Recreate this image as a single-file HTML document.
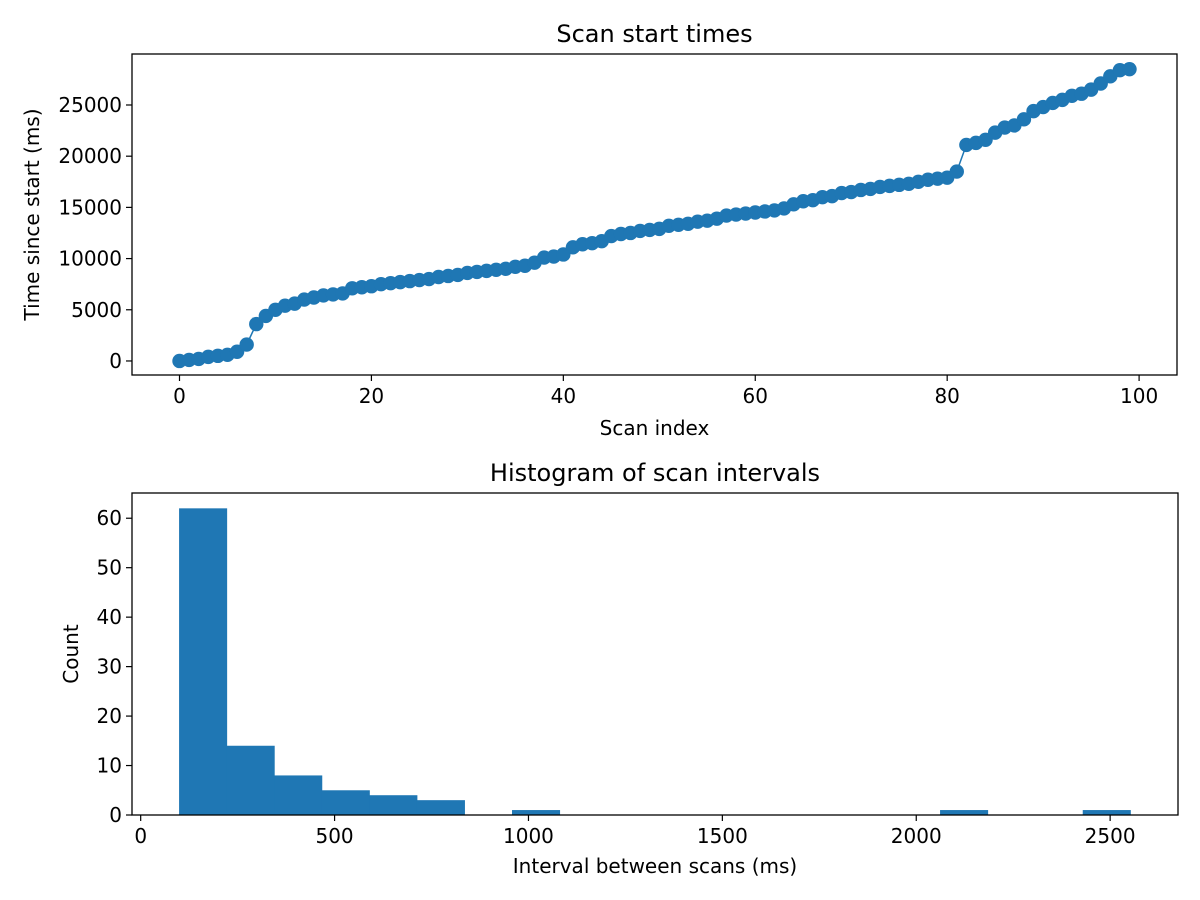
<!DOCTYPE html>
<html><head><meta charset="utf-8"><style>
body{margin:0;background:#fff}
svg{display:block;font-family:"DejaVu Sans","Liberation Sans",sans-serif}
</style></head><body>
<svg id="chart" width="1200" height="900"></svg>
<script>
const scanIndex = Array.from({length:100},(_,i)=>i);
const scanTimes = [0,100,200,400,500,600,900,1600,3600,4400,5000,5400,5600,6000,6200,6400,6500,6600,7100,7200,7300,7500,7600,7700,7800,7900,8000,8200,8300,8400,8600,8700,8800,8900,9000,9200,9300,9600,10100,10200,10400,11100,11400,11500,11700,12200,12400,12500,12700,12800,12900,13200,13300,13400,13600,13700,13900,14200,14300,14400,14500,14600,14700,14900,15300,15600,15700,16000,16100,16400,16500,16700,16800,17000,17100,17200,17300,17500,17700,17800,17900,18500,21100,21300,21600,22300,22800,23000,23600,24400,24800,25200,25500,25900,26100,26500,27100,27800,28400,28500];
const topXTicks = [0,20,40,60,80,100];
const topYTicks = [0,5000,10000,15000,20000,25000];
const histCounts = [62,14,8,5,4,3,0,1,0,0,0,0,0,0,0,0,1,0,0,1];
const histMin = 99, histMax = 2552;
const botXTicks = [0,500,1000,1500,2000,2500];
const botYTicks = [0,10,20,30,40,50,60];

const NS='http://www.w3.org/2000/svg';
const svg=document.getElementById('chart');
function el(tag,attrs,parent){const e=document.createElementNS(NS,tag);for(const k in attrs)e.setAttribute(k,attrs[k]);(parent||svg).appendChild(e);return e;}
function txt(s,attrs){const t=el('text',attrs);t.textContent=s;return t;}
const C='#1f77b4';
const FS=20, TFS=24;

// top axes
const T={l:132,r:1177,t:54,b:375,x0:-4.95,x1:103.95,y0:-1370,y1:29980};
const tx=v=>T.l+(v-T.x0)/(T.x1-T.x0)*(T.r-T.l);
const ty=v=>T.b-(v-T.y0)/(T.y1-T.y0)*(T.b-T.t);
const g1=el('g',{});


let d='';scanTimes.forEach((v,i)=>{d+=(i?'L':'M')+tx(scanIndex[i])+' '+ty(v);});
const ln=el('path',{d:d,stroke:C,'stroke-width':1.5,fill:'none'},g1);


scanTimes.forEach((v,i)=>{const c=el('circle',{cx:tx(scanIndex[i]),cy:ty(v),r:7.2,fill:C},g1);

});
el('rect',{x:T.l,y:T.t,width:T.r-T.l,height:T.b-T.t,fill:'none',stroke:'#000','stroke-width':1.3});
topXTicks.forEach(v=>{el('line',{x1:tx(v),x2:tx(v),y1:T.b,y2:T.b+6,stroke:'#000','stroke-width':1.2});
const t=txt(v,{x:tx(v),y:T.b+28,'font-size':FS,'text-anchor':'middle'});});
topYTicks.forEach(v=>{el('line',{x1:T.l-6,x2:T.l,y1:ty(v),y2:ty(v),stroke:'#000','stroke-width':1.2});
const t=txt(v,{x:T.l-10,y:ty(v)+7,'font-size':FS,'text-anchor':'end'});});
let t=txt('Scan start times',{x:(T.l+T.r)/2,y:T.t-12,'font-size':TFS,'text-anchor':'middle'});
t=txt('Scan index',{x:(T.l+T.r)/2,y:435,'font-size':FS,'text-anchor':'middle'});
t=txt('Time since start (ms)',{x:0,y:0,'font-size':FS,'text-anchor':'middle',transform:'translate(39,'+(T.t+T.b)/2+') rotate(-90)'});

// bottom axes
const B={l:132,r:1178,t:493,b:815,x0:-22.4,x1:2675,y0:0,y1:65.1};
const bx=v=>B.l+(v-B.x0)/(B.x1-B.x0)*(B.r-B.l);
const by=v=>B.b-(v-B.y0)/(B.y1-B.y0)*(B.b-B.t);
const w=(histMax-histMin)/histCounts.length;
histCounts.forEach((c,i)=>{if(!c)return;const x0=bx(histMin+i*w),x1=bx(histMin+(i+1)*w);
const r=el('rect',{x:x0,y:by(c),width:x1-x0+0.5,height:by(0)-by(c),fill:C});

});
el('rect',{x:B.l,y:B.t,width:B.r-B.l,height:B.b-B.t,fill:'none',stroke:'#000','stroke-width':1.3});
botXTicks.forEach(v=>{el('line',{x1:bx(v),x2:bx(v),y1:B.b,y2:B.b+6,stroke:'#000','stroke-width':1.2});
const t=txt(v,{x:bx(v),y:B.b+28,'font-size':FS,'text-anchor':'middle'});});
botYTicks.forEach(v=>{el('line',{x1:B.l-6,x2:B.l,y1:by(v),y2:by(v),stroke:'#000','stroke-width':1.2});
const t=txt(v,{x:B.l-10,y:by(v)+7,'font-size':FS,'text-anchor':'end'});});
t=txt('Histogram of scan intervals',{x:(B.l+B.r)/2,y:B.t-12,'font-size':TFS,'text-anchor':'middle'});
t=txt('Interval between scans (ms)',{x:(B.l+B.r)/2,y:873,'font-size':FS,'text-anchor':'middle'});
t=txt('Count',{x:0,y:0,'font-size':FS,'text-anchor':'middle',transform:'translate(78,'+(B.t+B.b)/2+') rotate(-90)'});
</script>
</body></html>
